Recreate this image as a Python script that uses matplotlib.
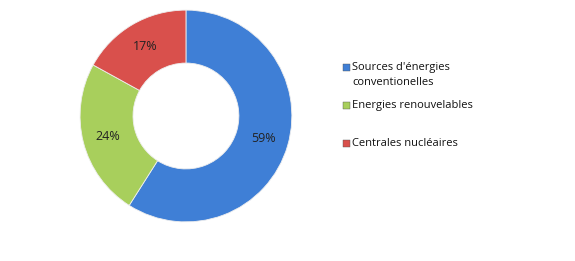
import matplotlib.pyplot as plt
from matplotlib.patches import Rectangle

# --- DATA ---
labels = ["Sources d'énergies\nconventionelles", "Energies renouvelables", "Centrales nucléaires"]
shares = [59, 24, 17]
colors = ["#3f7fd6", "#a8cf5c", "#d9504c"]

W, H = 575, 261
fig = plt.figure(figsize=(W / 100, H / 100), dpi=100)
ax = fig.add_axes([0.1374, 0.1456, 0.372, 0.82])

ax.pie(
    shares, colors=colors, startangle=90, counterclock=False,
    autopct=lambda p: f"{p:.0f}%", pctdistance=0.76,
    wedgeprops=dict(width=0.5, edgecolor="#eeeeee", linewidth=0.6),
    textprops=dict(fontsize=9, color="#222222", family="Open Sans"),
)
ax.set_xlim(-1.01, 1.01)
ax.set_ylim(-1.01, 1.01)
ax.set_aspect("equal")

# legend, laid out by hand like the original (first entry spans two lines)
legend_y = [67, 105, 143]  # pixel rows of first text line, from top
for lab, col, y in zip(labels, colors, legend_y):
    fy = 1 - y / H
    fig.add_artist(Rectangle((343 / W, fy - 3.5 / H), 7 / W, 7 / H,
                             transform=fig.transFigure, facecolor=col,
                             edgecolor="#555555", linewidth=0.3))
    fig.text(352 / W, fy + 5 / H, lab, va="top", ha="left", fontsize=8,
             family="Open Sans", linespacing=1.45, color="#111111")

fig.savefig("out.png", dpi=100)
